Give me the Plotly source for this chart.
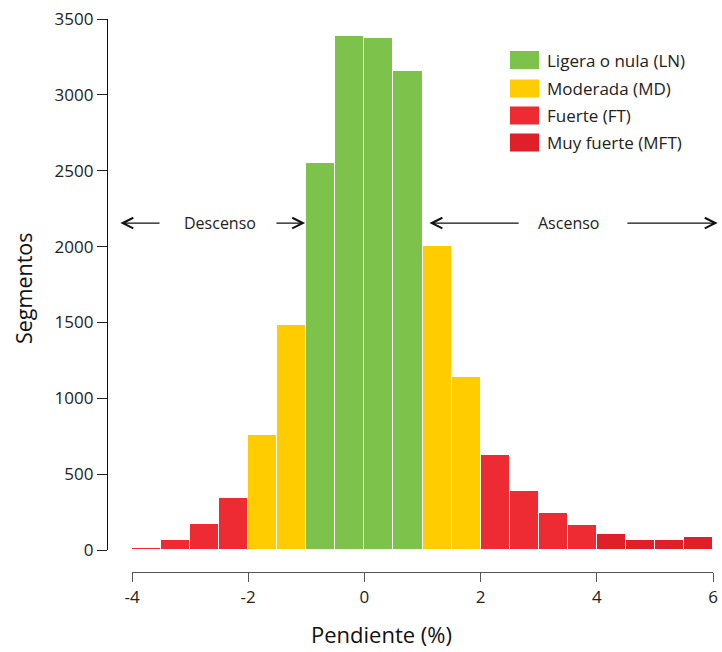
import plotly.graph_objects as go

# ---------------- data ----------------
bin_start = [-4.0, -3.5, -3.0, -2.5, -2.0, -1.5, -1.0, -0.5, 0.0, 0.5,
             1.0, 1.5, 2.0, 2.5, 3.0, 3.5, 4.0, 4.5, 5.0, 5.5]
counts = [15, 64, 169, 341, 758, 1483, 2553, 3390, 3377, 3160,
          2006, 1138, 626, 386, 242, 163, 107, 68, 68, 84]
classes = ["FT", "FT", "FT", "FT", "MD", "MD", "LN", "LN", "LN", "LN",
           "MD", "MD", "FT", "FT", "FT", "FT", "MFT", "MFT", "MFT", "MFT"]
bin_width = 0.5

class_order = ["LN", "MD", "FT", "MFT"]
class_names = {"LN": "Ligera o nula (LN)", "MD": "Moderada (MD)",
               "FT": "Fuerte (FT)", "MFT": "Muy fuerte (MFT)"}
class_colors = {"LN": "#7DC24B", "MD": "#FFCC00", "FT": "#EE2B33", "MFT": "#DF1F29"}

x_ticks = [-4, -2, 0, 2, 4, 6]
y_ticks = [0, 500, 1000, 1500, 2000, 2500, 3000, 3500]

# ---------------- layout geometry ----------------
W, H = 722, 652
ML, MR, MT, MB = 107, 9, 19, 80
PW, PH = W - ML - MR, H - MT - MB
FONT = "Open Sans"


def px_x(p):
    return (p - ML) / PW


def px_y(p):
    return (H - MB - p) / PH


fig = go.Figure()
for c in class_order:
    xs = [s + bin_width / 2 for s, k in zip(bin_start, classes) if k == c]
    ys = [v for v, k in zip(counts, classes) if k == c]
    fig.add_trace(go.Bar(
        x=xs, y=ys, width=bin_width, name=class_names[c],
        marker=dict(color=class_colors[c], line=dict(color="white", width=1)),
        showlegend=False,
    ))

shapes = []
annotations = []

# custom legend (large swatches like the original)
legend_rows = [60, 88.5, 115.5, 142.5]
for c, yc in zip(class_order, legend_rows):
    shapes.append(dict(type="rect", xref="paper", yref="paper",
                       x0=px_x(510), x1=px_x(539), y0=px_y(yc + 9), y1=px_y(yc - 9),
                       fillcolor=class_colors[c], line=dict(width=0)))
    annotations.append(dict(xref="paper", yref="paper", x=px_x(545), y=px_y(yc),
                            text=class_names[c], showarrow=False, xanchor="left",
                            yanchor="middle", font=dict(family=FONT, size=17, color="#222")))

# Descenso / Ascenso arrows
y_arr = 2155
arrow_style = dict(showarrow=True, arrowhead=5, arrowsize=1.6, arrowwidth=1.3,
                   arrowcolor="#111", xref="x", yref="y", axref="x", ayref="y", text="",
                   standoff=0, startstandoff=0)
annotations += [
    dict(x=-4.2, y=y_arr, ax=-3.5, ay=y_arr, **arrow_style),
    dict(x=-1.02, y=y_arr, ax=-1.54, ay=y_arr, **arrow_style),
    dict(x=1.12, y=y_arr, ax=2.68, ay=y_arr, **arrow_style),
    dict(x=6.08, y=y_arr, ax=4.5, ay=y_arr, **arrow_style),
    dict(x=-2.48, y=y_arr, xref="x", yref="y", text="Descenso", showarrow=False,
         xanchor="center", yanchor="middle",
         font=dict(family=FONT, size=16, color="#222")),
    dict(x=3.52, y=y_arr, xref="x", yref="y", text="Ascenso", showarrow=False,
         xanchor="center", yanchor="middle",
         font=dict(family=FONT, size=16, color="#222")),
]

# axis titles
annotations += [
    dict(xref="paper", yref="paper", x=px_x(23), y=px_y(288), text="Segmentos",
         textangle=-90, showarrow=False, xanchor="center", yanchor="middle",
         font=dict(family=FONT, size=21.5, color="#111")),
    dict(xref="paper", yref="paper", x=px_x(381), y=px_y(634), text="Pendiente (%)",
         showarrow=False, xanchor="center", yanchor="middle",
         font=dict(family=FONT, size=22, color="#111")),
]

fig.update_layout(
    width=W, height=H,
    margin=dict(l=ML, r=MR, t=MT, b=MB, pad=0, autoexpand=False),
    paper_bgcolor="white", plot_bgcolor="white",
    barmode="overlay", bargap=0,
    font=dict(family=FONT, size=17, color="#222"),
    shapes=shapes, annotations=annotations,
    xaxis=dict(domain=[px_x(132), 1], range=[-4, 6], anchor="free", position=0,
               automargin=False,
               tickvals=x_ticks, ticktext=[str(t) for t in x_ticks],
               ticks="outside", ticklen=9, tickcolor="#555", tickwidth=1.3,
               showline=True, linecolor="#555", linewidth=1.3,
               showgrid=False, zeroline=False, tickfont=dict(family=FONT, size=17, color="#222")),
    yaxis=dict(domain=[px_y(550), 1], range=[0, 3500], anchor="free", position=0,
               automargin=False,
               tickvals=y_ticks, ticktext=[str(t) for t in y_ticks],
               ticks="outside", ticklen=10, tickcolor="#222", tickwidth=1.2,
               showline=True, linecolor="#111", linewidth=1.2,
               showgrid=False, zeroline=False, tickfont=dict(family=FONT, size=17, color="#222")),
)

fig.write_html("out.html", config={"displayModeBar": False},
               post_script="document.body.style.margin='0px';document.body.style.overflow='hidden';")
